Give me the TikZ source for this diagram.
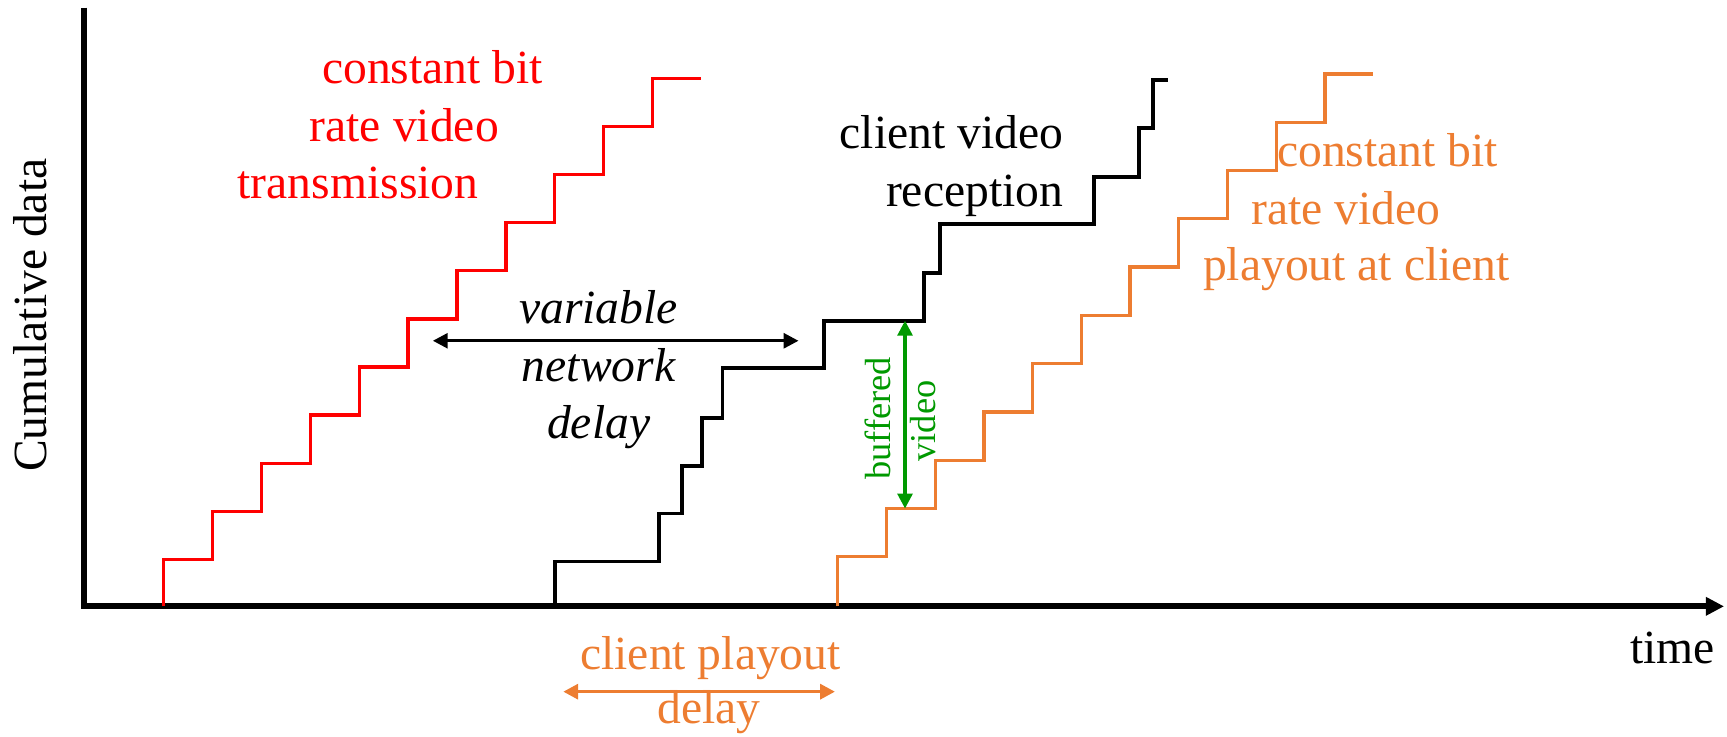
\documentclass[tikz,border=0pt]{standalone}
\usepackage{fontspec}
\setmainfont{Liberation Serif}
\usetikzlibrary{arrows.meta}
\definecolor{cbrred}{RGB}{255,0,0}
\definecolor{playorange}{RGB}{237,125,49}
\definecolor{bufgreen}{RGB}{0,153,0}

\begin{document}
\begin{tikzpicture}[x=0.02cm,y=-0.02cm,
    txt/.style={font=\fontsize{24.6}{29.5}\selectfont,inner sep=0pt},
    smalltxt/.style={font=\fontsize{18.8}{22}\selectfont,inner sep=0pt},
    stair/.style={line width=1.7pt,line join=miter},
    tip/.style={Triangle[length=0.27cm,width=0.27cm]},
    dbl/.style={line width=1.6pt,{Triangle[length=0.27cm,width=0.27cm]}-{Triangle[length=0.27cm,width=0.27cm]}}]

\useasboundingbox (0,0) rectangle (1568,669);
%
% axes
\coordinate (top) at (76.5,7);
\coordinate (o) at (76.5,550.5);
\coordinate (tend) at (1565.3,550.5);
\draw[line width=3.1pt,-{Triangle[length=0.33cm,width=0.32cm]}] (top) -- (o) -- (tend);
\node [txt,anchor=base,rotate=90] at (42.4,286.3) (ylab) {Cumulative data};
\node [txt,anchor=base west] at (1480,602.2) (xlab) {time};
%
% constant bit rate transmission
\draw[stair,cbrred] (148.5,550.5) |- (192.9,508) |- (237.3,464.3) |- (281.7,420.6)
   |- (326.1,376.9) |- (370.5,333.2) |- (414.9,289.5) |- (459.3,245.8)
   |- (503.7,202.1) |- (548.1,158.4) |- (592.5,114.7) |- (636,71);
\node [txt,cbrred,anchor=base west] at (292.1,76.2) (cbr1) {constant bit};
\node [txt,cbrred,anchor=base west] at (280.9,128.6) (cbr2) {rate video};
\node [txt,cbrred,anchor=base west] at (215.5,180) (cbr3) {transmission};
%
% client reception
\draw[stair,line width=1.9pt] (503.9,550.5) |- (598.6,509.8) |- (618.9,466.1) |- (637.1,423.1)
   |- (656.1,379.8) |- (748.1,334.4) |- (839,291.2) |- (853.5,248.1)
   |- (993.3,203.4) |- (1034.4,160.4) |- (1047.1,116.5) |- (1060.2,72.6);
\node [txt,anchor=base east] at (965.6,134.7) (rcv1) {client video};
\node [txt,anchor=base east] at (965.6,187.6) (rcv2) {reception};
%
% playout at client
\draw[stair,playorange] (760.6,550.5) |- (804.8,505.5) |- (849.1,461.7) |- (893.3,417.8)
   |- (937.6,374) |- (981.8,330.2) |- (1026,286.4) |- (1070.3,242.5)
   |- (1114.5,198.7) |- (1158.8,154.9) |- (1203,111) |- (1246.3,67.2);
\node [txt,playorange,anchor=base west] at (1159.2,151.3) (play1) {constant bit};
\node [txt,playorange,anchor=base west] at (1135.9,203.4) (play2) {rate video};
\node [txt,playorange,anchor=base west] at (1092,254.8) (play3) {playout at client};
%
% network delay
\coordinate (netL) at (393,309.4);
\coordinate (netR) at (725,309.4);
\path[dbl] (netL) edge (netR);
\node [txt,anchor=base] at (543.5,293.7) (net1) {\itshape variable};
\node [txt,anchor=base] at (543.5,346.7) (net2) {\itshape network};
\node [txt,anchor=base] at (543.5,398.2) (net3) {\itshape delay};
%
% buffered video
\coordinate (bufT) at (821.7,291.2);
\coordinate (bufB) at (821.7,461.7);
\path[dbl,bufgreen] (bufT) edge (bufB);
\node [smalltxt,bufgreen,anchor=base,rotate=90] at (808.2,379.8) (buf1) {buffered};
\node [smalltxt,bufgreen,anchor=base,rotate=90] at (849.2,382.3) (buf2) {video};
%
% playout delay
\coordinate (pdL) at (511.4,628);
\coordinate (pdR) at (758.1,628);
\path[dbl,playorange,line width=1.8pt] (pdL) edge (pdR);
\node [txt,playorange,anchor=base] at (645.1,607.7) (pd1) {client playout};
\node [txt,playorange,anchor=base] at (643.9,656.7) (pd2) {delay};

\end{tikzpicture}
\end{document}
